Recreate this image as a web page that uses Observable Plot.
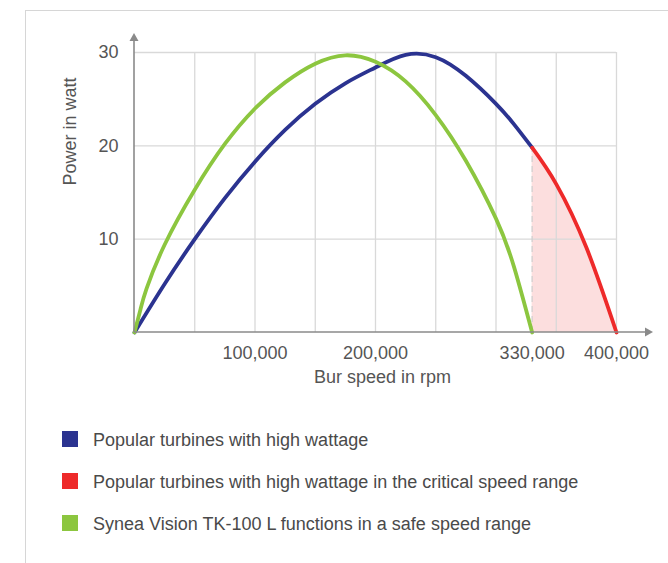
<!DOCTYPE html>
<html><head><meta charset="utf-8">
<script src="https://cdn.jsdelivr.net/npm/d3@7"></script>
<script src="https://cdn.jsdelivr.net/npm/@observablehq/plot@0.6"></script>
<style>
body{margin:0;background:#fff;font-family:"Liberation Sans",Arial,sans-serif;}
#wrap{position:relative;width:668px;height:563px;overflow:hidden;}
#panel{position:absolute;left:25px;top:10px;width:700px;height:600px;border:1px solid #d6d6d6;box-sizing:border-box;pointer-events:none;}
#legend{position:absolute;left:62px;top:431px;}
.row{display:flex;align-items:center;height:16px;margin-bottom:26px;}
.sw{width:16px;height:16px;margin-right:15px;flex:none;}
.lab{font-size:18px;color:#4a4a4a;line-height:16px;white-space:nowrap;position:relative;top:1px;}
</style></head>
<body><div id="wrap"><div id="chart"></div><div id="legend"></div><div id="panel"></div></div>
<script>
// ---- data ----
const popularSpeed = [0, 25000, 50000, 75000, 100000, 125000, 150000, 175000, 200000, 225000, 250000, 275000, 300000, 315000, 330000];
const popularPower = [0, 5.2, 10.0, 14.4, 18.3, 21.7, 24.5, 26.7, 28.4, 29.75, 29.5, 27.5, 24.5, 22.3, 19.8];

const criticalSpeed = [330000, 350000, 375000, 400000];
const criticalPower = [19.8, 15.9, 9.1, 0];

const safeSpeed = [0, 5000, 10000, 25000, 50000, 75000, 100000, 125000, 150000, 175000, 200000, 225000, 250000, 275000, 300000, 315000, 330000];
const safePower = [0, 2.5, 4.7, 9.4, 15.3, 20.2, 24.0, 26.8, 28.8, 29.7, 29.0, 26.9, 23.3, 18.4, 12.2, 7.0, 0];

const xTicks = [100000, 200000, 330000, 400000];
const yTicks = [10, 20, 30];
const xGrid = [50000, 100000, 150000, 200000, 250000, 300000, 350000, 400000];
const yGrid = [10, 20, 30];

const xLabel = "Bur speed in rpm";
const yLabel = "Power in watt";
const legendLabels = [
  "Popular turbines with high wattage",
  "Popular turbines with high wattage in the critical speed range",
  "Synea Vision TK-100 L functions in a safe speed range"
];
const colors = ["#2b3390", "#ee2a2a", "#8cc63f"];

// ---- build tables ----
const popular = popularSpeed.map((s, i) => ({speed: s, power: popularPower[i]}));
const critical = criticalSpeed.map((s, i) => ({speed: s, power: criticalPower[i]}));
const safe = safeSpeed.map((s, i) => ({speed: s, power: safePower[i]}));

const font = "Liberation Sans, Arial, sans-serif";
const textColor = "#555";
const curve = "natural";

const plot = Plot.plot({
  width: 668,
  height: 400,
  marginLeft: 134,
  marginRight: 52,
  marginTop: 52,
  marginBottom: 68,
  style: {fontFamily: font, background: "transparent", overflow: "visible"},
  x: {domain: [0, 400000]},
  y: {domain: [0, 30]},
  marks: [
    Plot.areaY(critical, {x: "speed", y: "power", fill: "#fcdede", curve}),
    Plot.gridX(xGrid, {stroke: "#d9d9d9", strokeOpacity: 1, strokeWidth: 1.3}),
    Plot.gridY(yGrid, {stroke: "#d9d9d9", strokeOpacity: 1, strokeWidth: 1.3}),
    Plot.ruleX([criticalSpeed[0]], {y1: 0, y2: criticalPower[0], stroke: "#cfcfcf", strokeWidth: 1.2, strokeDasharray: "6,4"}),
    Plot.line(popular, {x: "speed", y: "power", stroke: colors[0], strokeWidth: 3.8, curve}),
    Plot.line(critical, {x: "speed", y: "power", stroke: colors[1], strokeWidth: 3.8, curve}),
    Plot.line(safe, {x: "speed", y: "power", stroke: colors[2], strokeWidth: 3.8, curve}),
    Plot.axisY(yTicks, {tickSize: 0, tickPadding: 16, fontSize: 18, color: textColor, label: null}),
    Plot.axisX(xTicks, {tickSize: 0, tickPadding: 14, fontSize: 18, color: textColor, label: null, tickFormat: d3.format(",")}),
    Plot.text([yLabel], {frameAnchor: "left", rotate: -90, dx: -64, dy: -7, fontSize: 18, fill: textColor}),
    Plot.text([xLabel], {frameAnchor: "bottom", dx: 7, dy: 50, fontSize: 18, fill: textColor})
  ]
});

// axis lines with arrowheads, positioned from the plot's scales
const xs = plot.scale("x"), ys = plot.scale("y");
const svg = d3.select(plot);
const axisColor = "#8a8a8a";
const x0 = xs.apply(0), y0 = ys.apply(0);
const xEnd = xs.apply(400000) + 37;
const yEnd = ys.apply(30) - 19;
const g = svg.append("g");
g.append("line").attr("x1", x0).attr("x2", xEnd - 6).attr("y1", y0).attr("y2", y0)
  .attr("stroke", axisColor).attr("stroke-width", 1.6);
g.append("line").attr("x1", x0).attr("x2", x0).attr("y1", y0).attr("y2", yEnd + 6)
  .attr("stroke", axisColor).attr("stroke-width", 1.6);
g.append("path").attr("d", `M${xEnd},${y0}L${xEnd - 8},${y0 - 4.5}L${xEnd - 8},${y0 + 4.5}Z`).attr("fill", axisColor);
g.append("path").attr("d", `M${x0},${yEnd}L${x0 - 4.5},${yEnd + 8}L${x0 + 4.5},${yEnd + 8}Z`).attr("fill", axisColor);

document.getElementById("chart").appendChild(plot);

// legend
const legend = d3.select("#legend");
legendLabels.forEach((t, i) => {
  const row = legend.append("div").attr("class", "row");
  row.append("div").attr("class", "sw").style("background", colors[i]);
  row.append("div").attr("class", "lab").text(t);
});
</script>
</body></html>
